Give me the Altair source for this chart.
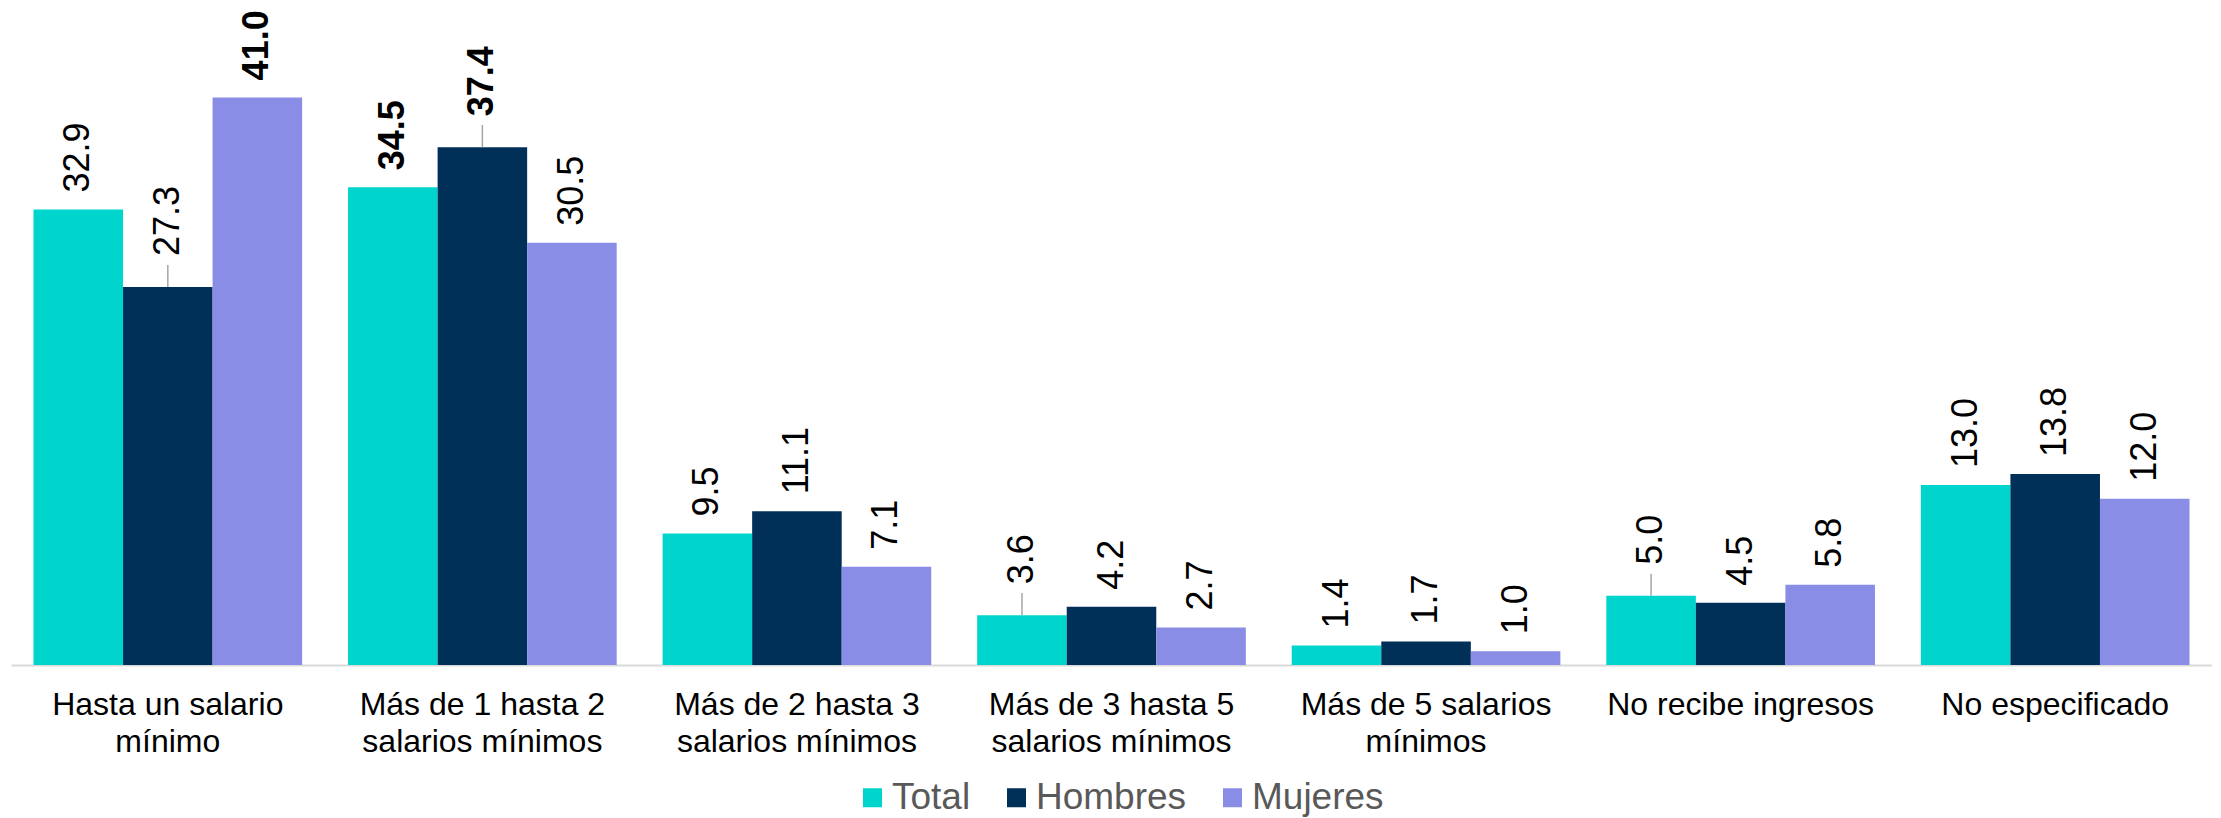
import altair as alt
import pandas as pd

categories = [
    "Hasta un salario\nmínimo",
    "Más de 1 hasta 2\nsalarios mínimos",
    "Más de 2 hasta 3\nsalarios mínimos",
    "Más de 3 hasta 5\nsalarios mínimos",
    "Más de 5 salarios\nmínimos",
    "No recibe ingresos",
    "No especificado",
]
series = ["Total", "Hombres", "Mujeres"]
total = [32.9, 34.5, 9.5, 3.6, 1.4, 5.0, 13.0]
hombres = [27.3, 37.4, 11.1, 4.2, 1.7, 4.5, 13.8]
mujeres = [41.0, 30.5, 7.1, 2.7, 1.0, 5.8, 12.0]
colors = ["#00D5CD", "#002F57", "#898DE6"]
# labels drawn with a leader line (moved further from the bar)
leader_labels = [(0, "Hombres"), (1, "Hombres"), (3, "Total"), (5, "Total")]

rows = []
for i, c in enumerate(categories):
    for s, vals in zip(series, [total, hombres, mujeres]):
        rows.append({
            "cat": c,
            "serie": s,
            "value": vals[i],
            "moved": (i, s) in leader_labels,
        })
df = pd.DataFrame(rows)

FONT = "Liberation Sans"

x_enc = alt.X(
    "cat:N",
    sort=categories,
    scale=alt.Scale(paddingInner=0.146, paddingOuter=0.0715),
    axis=alt.Axis(
        title=None,
        labelExpr="split(datum.label, '\\n')",
        labelAngle=0,
        labelFont=FONT,
        labelFontSize=32,
        labelColor="#000000",
        labelPadding=24,
        labelLineHeight=37,
        labelLimit=500,
        ticks=False,
        domainColor="#D9D9D9",
        domainWidth=2,
        grid=False,
    ),
)
xoff = alt.XOffset("serie:N", sort=series, scale=alt.Scale(paddingInner=0, paddingOuter=0))
y_enc = alt.Y("value:Q", scale=alt.Scale(domain=[0, 45], nice=False, zero=True), axis=None)

base = alt.Chart(df).encode(x=x_enc, xOffset=xoff).transform_joinaggregate(
    maxv="max(value)", groupby=["serie"]
)

bars = base.mark_bar(strokeWidth=0).encode(
    y=y_enc,
    color=alt.Color(
        "serie:N",
        sort=series,
        scale=alt.Scale(domain=series, range=colors),
        legend=alt.Legend(
            title=None,
            orient="none",
            direction="horizontal",
            legendX=843,
            legendY=737,
            symbolType="square",
            symbolSize=361,
            symbolStrokeWidth=0,
            labelFont=FONT,
            labelFontSize=37,
            labelColor="#595959",
            labelOffset=1,
            columnPadding=27,
            padding=0,
        ),
    ),
)

text_layers = []
for bold in [False, True]:
    for moved in [False, True]:
        flt = f"(datum.value == datum.maxv) == {str(bold).lower()} && datum.moved == {str(moved).lower()}"
        text_layers.append(
            base.transform_filter(flt)
            .mark_text(
                angle=270,
                align="left",
                baseline="middle",
                dx=31 if moved else 17,
                font=FONT,
                fontSize=36,
                fontWeight="bold" if bold else "normal",
                color="#000000",
            )
            .encode(y=y_enc, text=alt.Text("value:Q", format=".1f"))
        )

leaders = (
    base.transform_filter("datum.moved")
    .transform_calculate(top="datum.value + 1.6")
    .mark_rule(color="#A6A6A6", strokeWidth=1.5)
    .encode(y=y_enc, y2="top:Q")
)

chart = (
    alt.layer(bars, leaders, *text_layers)
    .properties(
        width=2201,
        height=623,
        autosize=alt.AutoSizeParams(type="none"),
        padding={"left": 3, "top": 34, "right": 0, "bottom": 153},
    )
    .configure_view(stroke=None)
)

chart.save("out.html", embed_options={"renderer": "svg", "actions": False})
